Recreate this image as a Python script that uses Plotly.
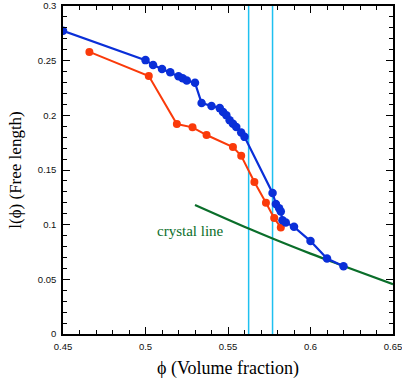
import plotly.graph_objects as go

# Blue series
blue_x = [0.450, 0.500, 0.5046, 0.510, 0.515, 0.520, 0.5225, 0.525, 0.530, 0.534, 0.540,
          0.545, 0.547, 0.549, 0.551, 0.553, 0.555, 0.558, 0.560,
          0.577, 0.579, 0.581, 0.582, 0.583, 0.585, 0.590, 0.600, 0.610, 0.620]
blue_y = [0.2773, 0.2505, 0.246, 0.2424, 0.2394, 0.2357, 0.234, 0.2318, 0.2297, 0.2112, 0.2085,
          0.2066, 0.2030, 0.2000, 0.1955, 0.1924, 0.1894, 0.1842, 0.1803,
          0.129, 0.119, 0.115, 0.112, 0.104, 0.102, 0.098, 0.085, 0.069, 0.062]

# Red series
red_x = [0.466, 0.502, 0.519, 0.5285, 0.537, 0.553, 0.558, 0.566, 0.573, 0.578, 0.582]
red_y = [0.258, 0.236, 0.192, 0.189, 0.182, 0.171, 0.163, 0.139, 0.120, 0.106, 0.0975]

# Crystal line
crystal_x = [0.530, 0.5625, 0.577, 0.600, 0.620, 0.650]
crystal_y = [0.118, 0.0964, 0.0873, 0.0735, 0.0622, 0.0455]

# Vertical reference lines
vlines_x = [0.5625, 0.577]

x_ticks = [0.45, 0.5, 0.55, 0.6, 0.65]
x_ticklabels = ["0.45", "0.5", "0.55", "0.6", "0.65"]
y_ticks = [0, 0.05, 0.1, 0.15, 0.2, 0.25, 0.3]
y_ticklabels = ["0", "0.05", "0.1", "0.15", "0.2", "0.25", "0.3"]

BLUE = "#0a2fd8"
RED = "#fa3a0a"
CYAN = "#1ec0f0"
GREEN = "#0a6e2a"

fig = go.Figure()

for vx in vlines_x:
    fig.add_trace(go.Scatter(x=[vx, vx], y=[0, 0.3], mode="lines",
                             line=dict(color=CYAN, width=1.5), hoverinfo="skip"))

fig.add_trace(go.Scatter(x=crystal_x, y=crystal_y, mode="lines",
                         line=dict(color=GREEN, width=2.2, shape="spline")))

fig.add_trace(go.Scatter(x=red_x, y=red_y, mode="lines+markers",
                         line=dict(color=RED, width=2),
                         marker=dict(color=RED, size=8)))

fig.add_trace(go.Scatter(x=blue_x, y=blue_y, mode="lines+markers",
                         line=dict(color=BLUE, width=2.2),
                         marker=dict(color=BLUE, size=8.5)))

# invisible trace to anchor the mirrored (top/right) axes
fig.add_trace(go.Scatter(x=[0.45], y=[0], xaxis="x2", yaxis="y2", mode="markers",
                         marker=dict(opacity=0), hoverinfo="skip"))

fig.add_annotation(x=0.5275, y=0.094, xref="x", yref="y", text="crystal line",
                   showarrow=False, font=dict(family="Liberation Serif", size=15, color=GREEN))

tick_style = dict(
    showgrid=False, zeroline=False, showline=True, linecolor="black", linewidth=1.5,
    ticks="inside", ticklen=7, tickwidth=1.2, tickcolor="black",
    minor=dict(ticks="inside", ticklen=4, tickwidth=1.2, tickcolor="black", dtick=0.01, showgrid=False),
    automargin=False,
)
label_font = dict(family="Liberation Sans", size=9.5, color="#111111")

fig.update_layout(
    xaxis=dict(range=[0.45, 0.65], tickvals=x_ticks, ticktext=x_ticklabels, ticklabelstandoff=3,
               tickfont=label_font, ticklabeloverflow="allow",
               title=dict(text="ϕ (Volume fraction)", standoff=10,
                          font=dict(family="Liberation Serif", size=18, color="black")),
               **tick_style),
    yaxis=dict(range=[0, 0.3], tickvals=y_ticks, ticktext=y_ticklabels, ticklabelstandoff=3,
               tickfont=label_font, ticklabeloverflow="allow",
               title=dict(text="l(ϕ) (Free length)", standoff=12,
                          font=dict(family="Liberation Serif", size=17, color="black")),
               **tick_style),
    xaxis2=dict(range=[0.45, 0.65], tickvals=x_ticks, overlaying="x", side="top", anchor="y2",
                showticklabels=False, **tick_style),
    yaxis2=dict(range=[0, 0.3], tickvals=y_ticks, overlaying="y", side="right", anchor="x2",
                showticklabels=False, **tick_style),
    width=402, height=382, showlegend=False,
    margin=dict(l=63, r=9, t=6, b=48),
    plot_bgcolor="white", paper_bgcolor="white",
)

fig.write_html("out.html", config={"displayModeBar": False},
               post_script="document.body.style.margin='0';document.body.style.overflow='hidden';")
